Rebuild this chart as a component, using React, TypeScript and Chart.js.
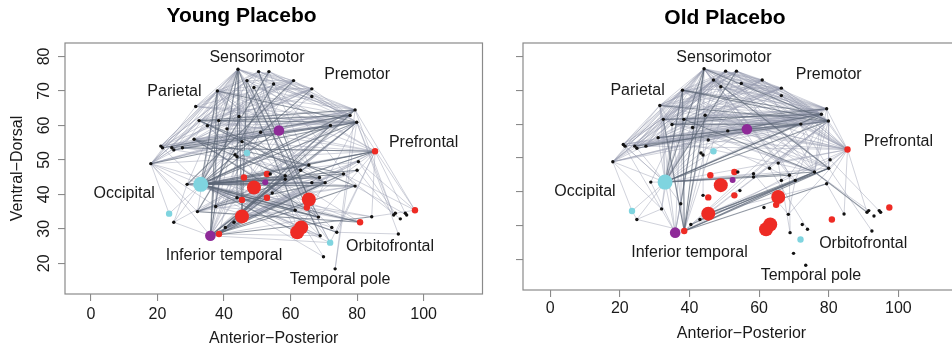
import React, { useEffect, useRef } from 'react';
import { Chart, registerables } from 'chart.js';

Chart.register(...registerables);

// ---------- data ----------
const nodeX = [
  44.2, 50.4, 53.5, 46.9, 54.9, 60.9, 49.0, 66.4, 66.4, 38.0,
  31.5, 79.4, 77.9, 79.9, 32.5, 38.4, 44.5, 35.0, 40.9, 72.0,
  56.5, 51.0, 31.0, 45.4, 21.0, 21.5, 24.3, 24.9, 27.5, 18.0,
  46.9, 43.3, 43.9, 85.4, 80.4, 80.0, 65.5, 63.0, 46.0, 52.9,
  53.9, 58.4, 58.4, 52.4, 68.7, 70.4, 66.4, 75.9, 79.4, 33.0,
  28.9, 49.0, 54.5, 43.9, 45.4, 52.9, 65.5, 64.9, 37.5, 32.0,
  23.5, 24.9, 61.4, 68.4, 45.4, 84.4, 80.9, 91.0, 91.5, 94.5,
  94.9, 93.0, 97.4, 92.4, 43.0, 40.4, 35.9, 38.5, 63.2, 62.0,
  72.4, 73.9, 68.9, 71.9, 69.9, 73.4,
];
const nodeY = [
  76.3, 75.6, 75.6, 73.0, 72.0, 73.0, 71.0, 70.6, 68.4, 70.0,
  65.5, 64.5, 62.9, 60.9, 61.4, 61.4, 62.6, 59.9, 59.0, 60.0,
  58.5, 58.0, 56.0, 55.3, 54.0, 53.5, 53.5, 52.9, 53.5, 48.9,
  52.0, 51.5, 50.9, 52.5, 49.5, 47.0, 48.5, 47.0, 44.9, 45.9,
  45.9, 45.4, 44.4, 43.5, 44.9, 43.4, 43.4, 45.9, 42.4, 42.9,
  42.9, 42.0, 40.4, 39.0, 38.4, 39.0, 38.5, 36.2, 36.5, 35.0,
  34.4, 31.9, 35.4, 33.4, 33.6, 33.5, 31.9, 34.0, 34.5, 34.5,
  34.0, 32.9, 35.4, 28.5, 31.9, 30.4, 28.0, 28.5, 30.4, 29.0,
  30.4, 29.0, 28.0, 26.0, 21.9, 18.4,
];
// k = black dot, r/R = red small/large, c/C = cyan small/large, p/P = purple small/large
const nodeKind = [
  'k', 'k', 'k', 'k', 'k', 'k', 'k', 'k', 'k', 'k',
  'k', 'k', 'k', 'k', 'k', 'k', 'k', 'k', 'k', 'k',
  'P', 'k', 'k', 'k', 'k', 'k', 'k', 'k', 'k', 'k',
  'c', 'k', 'k', 'r', 'k', 'k', 'k', 'k', 'r', 'r',
  'k', 'k', 'k', 'p', 'k', 'k', 'k', 'k', 'k', 'C',
  'k', 'R', 'k', 'k', 'r', 'r', 'R', 'r', 'k', 'k',
  'c', 'k', 'k', 'k', 'R', 'k', 'r', 'k', 'k', 'k',
  'k', 'k', 'r', 'k', 'k', 'k', 'P', 'r', 'R', 'R',
  'k', 'k', 'k', 'c', 'k', 'k',
];

const regionNames = ['Sensorimotor', 'Premotor', 'Parietal', 'Prefrontal', 'Occipital', 'Inferior temporal', 'Orbitofrontal', 'Temporal pole'];
const regionX = [49.9, 80.0, 25.1, 100.0, 10.0, 40.0, 89.9, 74.9];
const regionY = [79.7, 74.7, 69.9, 54.9, 40.2, 22.1, 24.8, 15.4];

const xTicks = [0, 20, 40, 60, 80, 100];
const yTicks = [20, 30, 40, 50, 60, 70, 80];

const youngDark = [
  [0, 49], [0, 53], [0, 76], [0, 64], [0, 62],
  [9, 13], [9, 49], [9, 76],
  [1, 56], [2, 49], [3, 64], [3, 82], [4, 59], [5, 50], [6, 63], [7, 49],
  [11, 14], [11, 49], [11, 77], [12, 15], [13, 14], [13, 49], [13, 76],
  [19, 49], [19, 77], [25, 12], [26, 19], [27, 13], [28, 33],
  [33, 49], [33, 38], [33, 59],
  [44, 49], [45, 58], [47, 49], [47, 22], [48, 49], [35, 49],
  [66, 49], [66, 59], [65, 76],
  [76, 15], [76, 41], [76, 62], [76, 48], [76, 47],
  [77, 36], [77, 45],
  [49, 41], [49, 40], [49, 45], [49, 62], [49, 63], [49, 81], [49, 79],
  [50, 42], [53, 63], [75, 41], [22, 41], [22, 63], [14, 45], [14, 48], [20, 49], [29, 13],
];
const youngLight = [
  [29, 0], [29, 3], [29, 1], [29, 9], [29, 10], [29, 14], [29, 17], [29, 4], [29, 16], [29, 21], [29, 20], [29, 33], [29, 49], [29, 58], [29, 59], [29, 76], [29, 12], [29, 11],
  [24, 0], [24, 9], [24, 3], [24, 1], [24, 5], [24, 16], [24, 13], [24, 49], [24, 11], [24, 12],
  [25, 0], [25, 2], [25, 11], [25, 20], [25, 13],
  [26, 9], [26, 4], [26, 33], [26, 13],
  [27, 0], [27, 6], [27, 37], [27, 12],
  [28, 0], [28, 7], [28, 12], [28, 36], [28, 13],
  [0, 10], [0, 14], [0, 15], [0, 17], [0, 50], [0, 58], [0, 38], [0, 11], [0, 12], [0, 13], [0, 33], [0, 7], [0, 8], [0, 20], [0, 83], [0, 51],
  [9, 10], [9, 1], [9, 2], [9, 5], [9, 7], [9, 11], [9, 12], [9, 19], [9, 20], [9, 33], [9, 59], [9, 58], [9, 36], [9, 45],
  [1, 5], [1, 7], [1, 11], [1, 20], [1, 49], [1, 79], [1, 37], [1, 8],
  [2, 12], [2, 13], [2, 53], [2, 76], [2, 36], [2, 7],
  [3, 11], [3, 19], [3, 49], [3, 33], [3, 5],
  [4, 12], [4, 76], [4, 48],
  [5, 13], [5, 49], [5, 58],
  [6, 11], [6, 49], [6, 77], [6, 7],
  [7, 12], [7, 17], [7, 76], [7, 22],
  [8, 13], [8, 50], [8, 14],
  [10, 1], [10, 5], [14, 5], [14, 7], [17, 5], [22, 0], [22, 5], [15, 7], [18, 7],
  [11, 22], [11, 76], [11, 58], [11, 59], [11, 51],
  [12, 17], [12, 49], [12, 53], [12, 64],
  [13, 17], [13, 18], [13, 77], [13, 59], [13, 61], [13, 75],
  [19, 76], [19, 22], [19, 53],
  [33, 50], [33, 22], [33, 53], [33, 76], [33, 77], [33, 15], [33, 18], [33, 62], [33, 81], [33, 63], [33, 65], [33, 83],
  [36, 49], [37, 76], [46, 49], [48, 59], [34, 50], [34, 76], [34, 58],
  [66, 29], [66, 53], [66, 50], [66, 38], [66, 41],
  [72, 13], [72, 11], [72, 47], [72, 65], [72, 34],
  [65, 49], [65, 53],
  [67, 11], [67, 13], [67, 35], [68, 34], [69, 33], [70, 48], [71, 47], [73, 81], [73, 13],
  [76, 16], [76, 18], [76, 21], [76, 44], [76, 45], [76, 63], [76, 35],
  [77, 44], [77, 46], [77, 41], [77, 34], [77, 82],
  [49, 42], [49, 44], [49, 46], [49, 82], [49, 80], [49, 57], [49, 78],
  [50, 41], [50, 45], [50, 63],
  [59, 41], [59, 44], [59, 35], [59, 37],
  [58, 82], [58, 63],
  [61, 49], [61, 76], [61, 50],
  [60, 49], [60, 29],
  [53, 44], [53, 82],
  [83, 49], [83, 76], [83, 9], [83, 0],
  [84, 49], [84, 9],
  [85, 11], [85, 13],
  [74, 44], [74, 36],
  [22, 45], [14, 44],
  [17, 62], [17, 82], [18, 81],
  [10, 13], [10, 19], [10, 12],
  [15, 19], [16, 13], [21, 49], [20, 76], [20, 14], [20, 22],
  [38, 44], [38, 48], [39, 49], [43, 49], [51, 62], [54, 81], [55, 48], [64, 47], [64, 41], [64, 13], [64, 45], [78, 13], [79, 9], [56, 9], [56, 14], [57, 22],
];

const oldDark = [
  [26, 13], [27, 12],
  [49, 0], [49, 9], [49, 2], [49, 13], [49, 12], [49, 19], [49, 47], [49, 44],
  [77, 0], [77, 9], [77, 14], [77, 16], [77, 47], [77, 35], [77, 48],
  [64, 47], [64, 35], [75, 47], [74, 35],
  [0, 13], [0, 58], [9, 12], [9, 13], [10, 13], [14, 12], [17, 11], [17, 19], [15, 47], [22, 19], [3, 35], [47, 67],
];
const oldLight = [
  [29, 0], [29, 3], [29, 9], [29, 10], [29, 14], [29, 17], [29, 1], [29, 2], [29, 49], [29, 59], [29, 60], [29, 20], [29, 12], [29, 16], [29, 11], [29, 13],
  [24, 0], [24, 9], [24, 10], [24, 3], [24, 13], [24, 11], [24, 49], [24, 76], [24, 12], [24, 2],
  [25, 0], [25, 1], [25, 12], [25, 19], [25, 49], [25, 13], [25, 3],
  [26, 9], [26, 11], [26, 2], [26, 12], [26, 0], [26, 1],
  [27, 0], [27, 5], [27, 49], [27, 13], [27, 1],
  [28, 3], [28, 13], [28, 7], [28, 33], [28, 12], [28, 11], [28, 0], [28, 1], [28, 9],
  [49, 10], [49, 14], [49, 15], [49, 17], [49, 3], [49, 1], [49, 16], [49, 4], [49, 5], [49, 6], [49, 18], [49, 21], [49, 33], [49, 11], [49, 35], [49, 76], [49, 59], [49, 61], [49, 60], [49, 58], [49, 50], [49, 22], [49, 41], [49, 20],
  [77, 10], [77, 15], [77, 17], [77, 3], [77, 1], [77, 2], [77, 13], [77, 45], [77, 44], [77, 12], [77, 19],
  [76, 9], [76, 10], [76, 0], [76, 58], [61, 77],
  [64, 13], [64, 48], [64, 34],
  [0, 10], [0, 14], [0, 11], [0, 12], [0, 7], [0, 8], [0, 5], [0, 19], [0, 33], [0, 36], [0, 37], [0, 20], [0, 35], [0, 44], [0, 45], [0, 47], [0, 50], [0, 53],
  [9, 10], [9, 1], [9, 2], [9, 5], [9, 7], [9, 11], [9, 19], [9, 33], [9, 35], [9, 47], [9, 36], [9, 59], [9, 58],
  [10, 12], [10, 11], [10, 19], [10, 33], [10, 5], [10, 7], [10, 14], [10, 17], [10, 1], [10, 2], [10, 3],
  [14, 13], [14, 11], [14, 19], [14, 33], [14, 47], [14, 45], [14, 1], [14, 2], [14, 3], [14, 5], [14, 7],
  [17, 13], [17, 12], [17, 33], [17, 8], [17, 1], [17, 3], [17, 5], [17, 7],
  [15, 13], [15, 12], [15, 33], [15, 35], [15, 1], [15, 5], [15, 7], [15, 11],
  [22, 13], [22, 12], [22, 33], [22, 47], [22, 0], [22, 1], [22, 5], [22, 7], [22, 11],
  [1, 13], [1, 12], [1, 11], [1, 33], [1, 47], [1, 5], [1, 7], [1, 8],
  [2, 13], [2, 33], [2, 12], [2, 44], [2, 5], [2, 7], [2, 11],
  [3, 13], [3, 33], [3, 12], [3, 5], [3, 7], [3, 11],
  [4, 13], [4, 12], [4, 33], [4, 7], [4, 11],
  [5, 13], [5, 12], [5, 33], [5, 47],
  [6, 12], [6, 13], [6, 33], [6, 7], [6, 11],
  [7, 33], [7, 13], [7, 12],
  [8, 33], [8, 12],
  [16, 13], [16, 12], [16, 33], [16, 35], [16, 7], [16, 11],
  [18, 13], [18, 12], [18, 47], [18, 5], [18, 7], [18, 11],
  [19, 33], [19, 47], [19, 35], [19, 11], [19, 12],
  [20, 12], [20, 13], [20, 11], [21, 13], [21, 12], [21, 7], [21, 11], [23, 13], [23, 11], [23, 12],
  [33, 65], [33, 67], [33, 47], [33, 48], [33, 63], [33, 35], [33, 34], [33, 36], [33, 44], [33, 11], [33, 12], [33, 13],
  [36, 12], [36, 13], [37, 13], [44, 13], [45, 12], [41, 12], [42, 13],
  [47, 68], [48, 65], [35, 73], [34, 70],
  [44, 82], [45, 63], [36, 82], [37, 81], [41, 63],
  [60, 61], [59, 61], [50, 76], [58, 76],
  [11, 12], [12, 13], [11, 13], [13, 35], [13, 47], [12, 47], [11, 47],
];

// ---------- styles ----------
const FONT = '"Liberation Sans", Arial, Helvetica, sans-serif';
const KIND_STYLE: Record<string, { r: number; c: string }> = {
  k: { r: 1.7, c: '#111111' },
  r: { r: 3.2, c: '#EE2B24' },
  R: { r: 7, c: '#EE2B24' },
  c: { r: 3.2, c: '#7FD4DF' },
  C: { r: 7.5, c: '#7FD4DF' },
  p: { r: 3, c: '#8E2A98' },
  P: { r: 5.3, c: '#8E2A98' },
};
const LIGHT_EDGE = 'rgba(150,156,176,0.45)';
const DARK_EDGE = 'rgba(92,102,118,0.68)';
const AXIS_GRAY = '#8a8a8a';

const X_MIN = -7.8;
const X_MAX = 117.7;
const Y_MIN = 11.1;
const Y_MAX = 83.9;

type PanelCfg = {
  title: string;
  dark: number[][];
  light: number[][];
  yLabels: boolean;
  yAxisWidth: number;
  xAxisHeight: number;
  padRight: number;
  titlePad: { top: number; bottom: number };
  xTickPad: number;
  xTitlePadBottom: number;
};

function edgeDataset(e: number[], color: string, width: number, order: number) {
  return {
    data: [
      { x: nodeX[e[0]], y: nodeY[e[0]] },
      { x: nodeX[e[1]], y: nodeY[e[1]] },
    ],
    showLine: true,
    pointRadius: 0,
    pointHitRadius: 0,
    borderColor: color,
    borderWidth: width,
    order,
  };
}

function buildConfig(cfg: PanelCfg): any {
  const nodes = {
    data: nodeX.map((x, i) => ({ x, y: nodeY[i] })),
    pointRadius: nodeKind.map((k) => KIND_STYLE[k].r),
    pointBackgroundColor: nodeKind.map((k) => KIND_STYLE[k].c),
    pointBorderWidth: 0,
    pointBorderColor: 'rgba(0,0,0,0)',
    showLine: false,
    order: 0,
  };
  const datasets: any[] = [nodes];
  cfg.dark.forEach((e) => datasets.push(edgeDataset(e, DARK_EDGE, 1.1, 1)));
  cfg.light.forEach((e) => datasets.push(edgeDataset(e, LIGHT_EDGE, 1, 2)));

  const decorPlugin = {
    id: 'decor',
    afterDatasetsDraw(chart: any) {
      const { ctx, scales } = chart;
      ctx.save();
      ctx.fillStyle = '#1a1a1a';
      ctx.font = `16px ${FONT}`;
      ctx.textAlign = 'center';
      ctx.textBaseline = 'middle';
      regionNames.forEach((name, i) => {
        ctx.fillText(name, scales.x.getPixelForValue(regionX[i]), scales.y.getPixelForValue(regionY[i]));
      });
      ctx.restore();
    },
    afterDraw(chart: any) {
      const { ctx, chartArea, scales } = chart;
      ctx.save();
      ctx.strokeStyle = AXIS_GRAY;
      ctx.lineWidth = 1.2;
      ctx.strokeRect(chartArea.left, chartArea.top, chartArea.right - chartArea.left, chartArea.bottom - chartArea.top);
      if (cfg.yLabels) {
        ctx.fillStyle = '#1a1a1a';
        ctx.font = `16px ${FONT}`;
        ctx.textAlign = 'center';
        ctx.textBaseline = 'middle';
        yTicks.forEach((v) => {
          ctx.save();
          ctx.translate(chartArea.left - 20, scales.y.getPixelForValue(v));
          ctx.rotate(-Math.PI / 2);
          ctx.fillText(String(v), 0, 0);
          ctx.restore();
        });
      }
      ctx.restore();
    },
  };

  return {
    type: 'scatter',
    data: { datasets },
    options: {
      animation: false,
      responsive: false,
      events: [],
      layout: { padding: { left: 0, right: cfg.padRight, top: 0, bottom: 0 } },
      plugins: {
        legend: { display: false },
        tooltip: { enabled: false },
        title: {
          display: true,
          text: cfg.title,
          color: '#000',
          font: { family: FONT, size: 21, weight: 'bold' },
          padding: cfg.titlePad,
        },
      },
      scales: {
        x: {
          type: 'linear',
          min: X_MIN,
          max: X_MAX,
          afterBuildTicks: (axis: any) => {
            axis.ticks = xTicks.map((v) => ({ value: v }));
          },
          afterFit: (s: any) => {
            s.height = cfg.xAxisHeight;
          },
          grid: { display: true, drawOnChartArea: false, drawTicks: true, tickLength: 7, color: AXIS_GRAY, lineWidth: 1.1 },
          border: { display: false },
          ticks: { font: { family: FONT, size: 16 }, color: '#1a1a1a', padding: cfg.xTickPad, maxRotation: 0, autoSkip: false },
          title: {
            display: true,
            text: 'Anterior\u2212Posterior',
            color: '#1a1a1a',
            font: { family: FONT, size: 16 },
            padding: { top: 0, bottom: cfg.xTitlePadBottom },
          },
        },
        y: {
          type: 'linear',
          min: Y_MIN,
          max: Y_MAX,
          afterBuildTicks: (axis: any) => {
            axis.ticks = yTicks.map((v) => ({ value: v }));
          },
          afterFit: (s: any) => {
            s.width = cfg.yAxisWidth;
          },
          grid: { display: true, drawOnChartArea: false, drawTicks: true, tickLength: 7, color: AXIS_GRAY, lineWidth: 1.1 },
          border: { display: false },
          ticks: { display: false },
          title: {
            display: cfg.yLabels,
            text: 'Ventral\u2212Dorsal',
            color: '#1a1a1a',
            font: { family: FONT, size: 16 },
            padding: { top: 8.4, bottom: 0 },
          },
        },
      },
    },
    plugins: [decorPlugin],
  };
}

const youngCfg: PanelCfg = {
  title: 'Young Placebo',
  dark: youngDark,
  light: youngLight,
  yLabels: true,
  yAxisWidth: 65,
  xAxisHeight: 55,
  padRight: 7,
  titlePad: { top: 4, bottom: 13.8 },
  xTickPad: 3.5,
  xTitlePadBottom: 0.4,
};
const oldCfg: PanelCfg = {
  title: 'Old Placebo',
  dark: oldDark,
  light: oldLight,
  yLabels: false,
  yAxisWidth: 33,
  xAxisHeight: 59,
  padRight: 10,
  titlePad: { top: 5.7, bottom: 12.1 },
  xTickPad: 2.4,
  xTitlePadBottom: 5.4,
};

function Panel({ cfg, left, width }: { cfg: PanelCfg; left: number; width: number }) {
  const ref = useRef<HTMLCanvasElement>(null);
  useEffect(() => {
    const chart = new Chart(ref.current as HTMLCanvasElement, buildConfig(cfg));
    return () => chart.destroy();
  }, [cfg]);
  return (
    <canvas
      ref={ref}
      width={width}
      height={349}
      style={{ position: 'absolute', left, top: 0, width, height: 349, display: 'block' }}
    />
  );
}

export default function App() {
  return (
    <div
      style={{
        position: 'absolute',
        left: 0,
        top: 0,
        width: 952,
        height: 349,
        overflow: 'hidden',
        background: '#fff',
      }}
    >
      <Panel cfg={youngCfg} left={0} width={490} />
      <Panel cfg={oldCfg} left={490} width={480} />
    </div>
  );
}
